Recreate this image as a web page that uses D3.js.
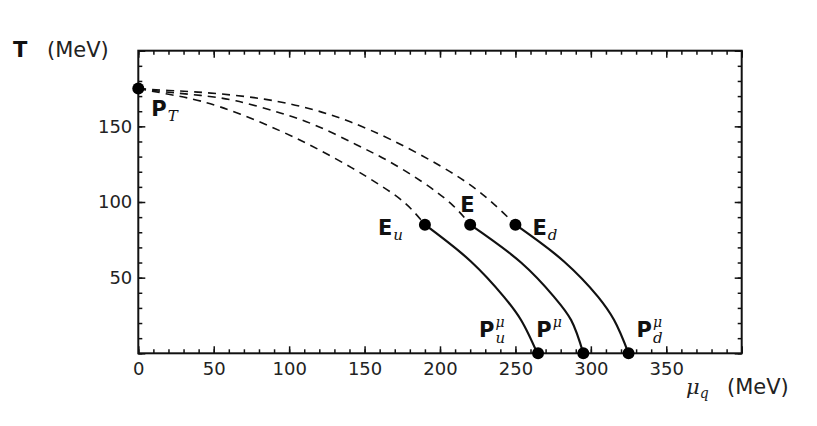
<!DOCTYPE html>
<html>
<head>
<meta charset="utf-8">
<script src="https://cdn.jsdelivr.net/npm/d3@7"></script>
<style>
  html, body { margin: 0; padding: 0; background: #fff; }
  svg { display: block; }
  .tick text { font-family: "DejaVu Sans", sans-serif; font-size: 18px; fill: #222; }
</style>
</head>
<body>
<svg id="chart" width="817" height="426"></svg>
<script>
// ---- data ----
const xDomain = [0, 400];
const yDomain = [0, 200];
const xMajorTicks = [0, 50, 100, 150, 200, 250, 300, 350];
const yMajorTicks = [50, 100, 150];

// critical points
const pointPT = { mu: 0, T: 175 };
const pointsE = [
  { name: "Eu", mu: 190, T: 85 },
  { name: "E", mu: 220, T: 85 },
  { name: "Ed", mu: 250, T: 85 }
];
const pointsPmu = [
  { name: "Pu", mu: 265, T: 0 },
  { name: "P", mu: 295, T: 0 },
  { name: "Pd", mu: 325, T: 0 }
];

// dashed crossover lines (P_T -> E)
const dashedEu = [[0,175],[20,171.2],[41,167.4],[67.5,158.6],[95.9,146.4],[118.5,135.5],[142.3,122.3],[160,111.5],[178,99.5],[190,85]];
const dashedE  = [[0,175],[20,172.4],[41,170.6],[62.8,168],[95.9,158.6],[118.5,150.9],[145,137.6],[165,128],[188.7,113.4],[209,98.5],[220,85]];
const dashedEd = [[0,175],[20,173.6],[41,172.8],[85.3,168.6],[118.5,160.8],[140,153.5],[166.8,142.1],[200,124.4],[226.5,107.9],[250,85]];

// solid first-order lines (E -> P^mu)
const solidEu = [[190,85],[220.5,60.7],[242.4,37.3],[253.7,22],[264.5,0]];
const solidE  = [[220,85],[253.7,60],[275.6,37.3],[286.9,22],[295,0]];
const solidEd = [[250,85],[282.2,60.7],[304.8,37.3],[315.4,22],[325,0]];

// ---- drawing ----
const svg = d3.select("#chart");
const x = d3.scaleLinear().domain(xDomain).range([138.3, 741.7]);
const y = d3.scaleLinear().domain(yDomain).range([353.3, 50.7]);

const minorX = d3.range(0, 401, 10);
const minorY = d3.range(0, 201, 10);
const majorX = d3.range(0, 401, 50);
const majorY = d3.range(0, 201, 50);

function styleAxis(g) {
  g.select(".domain").remove();
  g.selectAll(".tick line").attr("stroke", "#111").attr("stroke-width", 1.5);
}

// minor ticks
svg.append("g").attr("transform", `translate(0,${y(0)})`)
  .call(d3.axisBottom(x).tickValues(minorX).tickSize(-4).tickFormat(""))
  .call(styleAxis);
svg.append("g").attr("transform", `translate(0,${y(200)})`)
  .call(d3.axisTop(x).tickValues(minorX).tickSize(-4).tickFormat(""))
  .call(styleAxis);
svg.append("g").attr("transform", `translate(${x(0)},0)`)
  .call(d3.axisLeft(y).tickValues(minorY).tickSize(-4).tickFormat(""))
  .call(styleAxis);
svg.append("g").attr("transform", `translate(${x(400)},0)`)
  .call(d3.axisRight(y).tickValues(minorY).tickSize(-4).tickFormat(""))
  .call(styleAxis);

// major ticks
svg.append("g").attr("transform", `translate(0,${y(0)})`)
  .call(d3.axisBottom(x).tickValues(majorX).tickSize(-7).tickFormat(""))
  .call(styleAxis);
svg.append("g").attr("transform", `translate(0,${y(200)})`)
  .call(d3.axisTop(x).tickValues(majorX).tickSize(-7).tickFormat(""))
  .call(styleAxis);
svg.append("g").attr("transform", `translate(${x(0)},0)`)
  .call(d3.axisLeft(y).tickValues(majorY).tickSize(-7).tickFormat(""))
  .call(styleAxis);
svg.append("g").attr("transform", `translate(${x(400)},0)`)
  .call(d3.axisRight(y).tickValues(majorY).tickSize(-7).tickFormat(""))
  .call(styleAxis);

// tick labels
svg.append("g").attr("transform", `translate(0,${y(0)})`)
  .call(d3.axisBottom(x).tickValues(xMajorTicks).tickSize(0).tickPadding(9).tickFormat(d3.format("d")))
  .call(g => g.select(".domain").remove());
svg.append("g").attr("transform", `translate(${x(0)},0)`)
  .call(d3.axisLeft(y).tickValues(yMajorTicks).tickSize(0).tickPadding(6).tickFormat(d3.format("d")))
  .call(g => g.select(".domain").remove());

// frame
svg.append("rect")
  .attr("x", x(0)).attr("y", y(200))
  .attr("width", x(400) - x(0)).attr("height", y(0) - y(200))
  .attr("fill", "none").attr("stroke", "#111").attr("stroke-width", 2);

// curves
const lineDash = d3.line().x(d => x(d[0])).y(d => y(d[1])).curve(d3.curveBasis);
const lineSolid = d3.line().x(d => x(d[0])).y(d => y(d[1])).curve(d3.curveCatmullRom.alpha(0.5));

[dashedEu, dashedE, dashedEd].forEach(data => {
  svg.append("path").attr("d", lineDash(data))
    .attr("fill", "none").attr("stroke", "#111").attr("stroke-width", 1.6)
    .attr("stroke-dasharray", "8,6");
});
[solidEu, solidE, solidEd].forEach(data => {
  svg.append("path").attr("d", lineSolid(data))
    .attr("fill", "none").attr("stroke", "#111").attr("stroke-width", 2.2);
});

// dots
const allPts = [pointPT].concat(pointsE, pointsPmu);
svg.selectAll("circle.pt").data(allPts).enter().append("circle")
  .attr("class", "pt")
  .attr("cx", d => x(d.mu)).attr("cy", d => y(d.T)).attr("r", 6)
  .attr("fill", "#000");

// labels
const boldFont = "DejaVu Sans, sans-serif";
const italFont = "DejaVu Serif, serif";
function label(px, py, main, sub, sup, anchor) {
  const t = svg.append("text").attr("x", px).attr("y", py)
    .attr("font-family", boldFont).attr("font-weight", "bold").attr("font-size", 21)
    .attr("fill", "#111").attr("text-anchor", anchor || "start");
  t.append("tspan").text(main);
  if (sup) {
    t.append("tspan").attr("dy", -10).attr("dx", 1).attr("font-family", italFont)
      .attr("font-style", "italic").attr("font-weight", "normal").attr("font-size", 14).text(sup);
  }
  if (sub) {
    const s = t.append("tspan").attr("font-family", italFont)
      .attr("font-style", "italic").attr("font-weight", "normal").attr("font-size", 15).text(sub);
    if (sup) {
      s.attr("dy", 16).attr("dx", -9);
    } else {
      s.attr("dy", 5).attr("dx", 1);
    }
  }
  return t;
}
label(x(0) + 13, y(pointPT.T) + 27, "P", "T");
label(x(pointsE[0].mu) - 47, y(85) + 10, "E", "u");
label(x(pointsE[1].mu) - 10, y(85) - 13, "E");
label(x(pointsE[2].mu) + 17, y(85) + 10, "E", "d");
label(x(pointsPmu[0].mu) - 59, y(0) - 16, "P", "u", "μ");
label(x(pointsPmu[1].mu) - 47, y(0) - 16, "P", null, "μ");
label(x(pointsPmu[2].mu) + 8, y(0) - 16, "P", "d", "μ");

// axis titles
const yt = svg.append("text").attr("x", 13).attr("y", 57)
  .attr("font-family", boldFont).attr("font-size", 21).attr("fill", "#222");
yt.append("tspan").attr("font-weight", "bold").attr("font-size", 21).attr("fill", "#111").text("T");
yt.append("tspan").attr("x", 47).text("(MeV)");

const xt = svg.append("text").attr("x", 686).attr("y", 394)
  .attr("font-family", boldFont).attr("font-size", 21).attr("fill", "#222");
xt.append("tspan").attr("font-family", italFont).attr("font-style", "italic").text("μ");
xt.append("tspan").attr("font-family", italFont).attr("font-style", "italic")
  .attr("font-size", 14).attr("dy", 4).text("q");
xt.append("tspan").attr("dy", -4).attr("x", 727).text("(MeV)");
</script>
</body>
</html>
